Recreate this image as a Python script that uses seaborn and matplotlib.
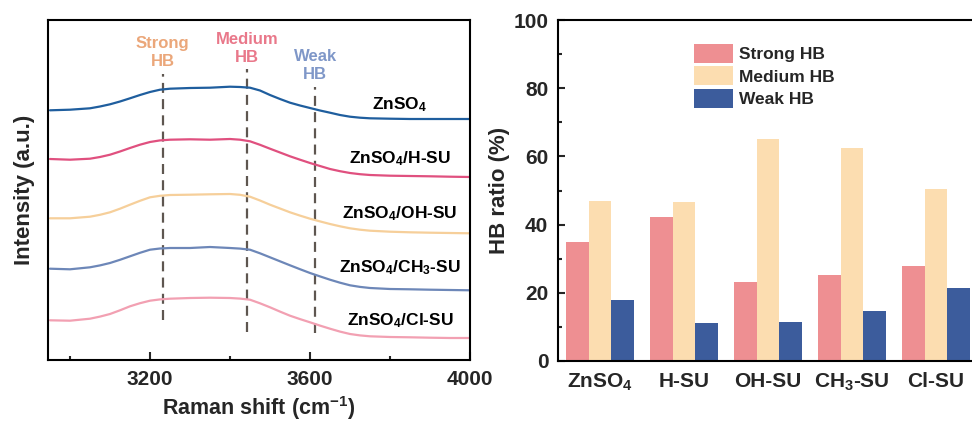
import matplotlib
matplotlib.use("Agg")
import matplotlib.pyplot as plt
import seaborn as sns
import pandas as pd

# ---------------- data ----------------
# Raman O-H stretching region, curves stacked with vertical offsets (a.u.)
wavenumber = [2950, 3000, 3050, 3075, 3100, 3125, 3150, 3175, 3200, 3225, 3250,
              3300, 3350, 3400, 3425, 3450, 3475, 3500, 3525, 3550, 3575, 3600,
              3625, 3650, 3675, 3700, 3725, 3750, 3800, 3850, 3900, 3950, 4000]
raman_znso4 = [249.7, 250.3, 251.7, 253.5, 255.7, 258.5, 261.7, 265.0, 268.0, 270.3, 271.3,
               272.0, 272.3, 273.3, 273.0, 272.3, 269.5, 265.0, 261.0, 257.3, 254.5, 252.0,
               249.5, 247.3, 245.0, 243.3, 242.3, 241.7, 241.3, 241.0, 241.0, 241.0, 241.0]
raman_h_su = [201.0, 200.3, 201.3, 203.0, 205.3, 208.5, 212.0, 215.3, 218.0, 219.6, 220.3,
              220.7, 220.3, 221.0, 220.3, 218.7, 215.2, 211.3, 207.5, 203.7, 200.3, 197.0,
              194.0, 191.0, 188.8, 187.0, 185.8, 185.0, 184.3, 184.0, 183.7, 183.3, 183.0]
raman_oh_su = [141.7, 141.7, 143.3, 145.2, 147.7, 151.3, 155.3, 159.2, 162.7, 164.2, 165.0,
               165.3, 165.7, 166.0, 165.2, 163.3, 159.5, 155.3, 151.5, 147.7, 144.4, 141.3,
               138.6, 136.0, 133.7, 131.7, 130.3, 129.3, 128.3, 127.7, 127.3, 127.0, 126.7]
raman_ch3_su = [91.3, 90.7, 92.7, 94.6, 97.0, 100.2, 103.7, 107.2, 110.3, 111.5, 112.0,
                112.0, 113.0, 112.0, 111.4, 110.3, 106.7, 102.7, 98.7, 94.7, 90.8, 87.0,
                83.6, 80.3, 77.3, 74.7, 73.1, 72.0, 71.0, 70.7, 70.3, 70.0, 69.7]
raman_cl_su = [39.7, 39.3, 41.3, 43.4, 46.0, 49.7, 53.7, 56.8, 59.3, 60.6, 61.3,
               62.0, 62.3, 62.0, 61.4, 60.3, 56.7, 52.7, 48.4, 44.3, 40.9, 37.7,
               34.4, 31.3, 28.4, 26.0, 24.6, 23.7, 23.0, 22.7, 22.3, 22.0, 22.0]

curve_names = ["ZnSO$_4$", "ZnSO$_4$/H-SU", "ZnSO$_4$/OH-SU",
               "ZnSO$_4$/CH$_3$-SU", "ZnSO$_4$/Cl-SU"]
curve_colors = ["#1F5E9E", "#E0507F", "#F6CF9A", "#6D87B8", "#F2A0B2"]
curve_label_y = [255, 201, 146, 92, 39]

# hydrogen-bond band positions (cm-1)
hb_positions = [3232, 3442, 3613]
hb_names = ["Strong\nHB", "Medium\nHB", "Weak\nHB"]
hb_text_colors = ["#EBA77A", "#E9788A", "#7F97C8"]

# HB ratio from peak fitting (%)
samples = ["ZnSO$_4$", "H-SU", "OH-SU", "CH$_3$-SU", "Cl-SU"]
strong_hb = [35.0, 42.1, 23.3, 25.1, 27.9]
medium_hb = [46.9, 46.5, 65.1, 62.6, 50.5]
weak_hb = [17.9, 11.1, 11.3, 14.7, 21.3]
hb_types = ["Strong HB", "Medium HB", "Weak HB"]
bar_colors = ["#EE8F92", "#FCDDB0", "#3C5C9C"]

# ---------------- style ----------------
sns.set_style("ticks")
plt.rcParams.update({
    "font.family": ["Liberation Sans", "DejaVu Sans"],
    "font.weight": "bold",
    "axes.labelweight": "bold",
    "mathtext.fontset": "custom",
    "mathtext.rm": "Liberation Sans:bold",
    "mathtext.it": "Liberation Sans:bold",
    "mathtext.bf": "Liberation Sans:bold",
    "mathtext.default": "rm",
    "axes.linewidth": 1.5,
    "axes.edgecolor": "black",
})

fig = plt.figure(figsize=(9.72, 4.21), dpi=100)
ax1 = fig.add_axes([48 / 972, 1 - 360 / 421, 422 / 972, 340 / 421])
ax2 = fig.add_axes([558 / 972, 1 - 361 / 421, 420 / 972, 341 / 421])

# ---------------- left: Raman spectra ----------------
spectra = pd.DataFrame({
    "wavenumber": wavenumber * 5,
    "intensity": raman_znso4 + raman_h_su + raman_oh_su + raman_ch3_su + raman_cl_su,
    "sample": sum([[n] * len(wavenumber) for n in curve_names], []),
})
sns.lineplot(data=spectra, x="wavenumber", y="intensity", hue="sample",
             hue_order=curve_names, palette=curve_colors, linewidth=1.6,
             legend=False, ax=ax1, estimator=None)

dash_spans = [(40, 286), (28, 291), (27, 273)]
for xpos, (y0, y1) in zip(hb_positions, dash_spans):
    ax1.plot([xpos, xpos], [y0, y1], color="#5E5650", linewidth=1.6,
             linestyle=(0, (4.5, 2.8)), zorder=1)

hb_text_y = [307.5, 311.5, 294.5]
for xpos, ty, name, col in zip(hb_positions, hb_text_y, hb_names, hb_text_colors):
    ax1.text(xpos, ty, name, color=col, fontsize=12, fontweight="bold",
             ha="center", va="center", linespacing=1.25)

for name, ty in zip(curve_names, curve_label_y):
    ax1.text(3825, ty, name, fontsize=12.5, fontweight="bold",
             ha="center", va="center", color="black")

ax1.set_xlim(2945, 4000)
ax1.set_ylim(0, 340)
ax1.set_xticks([3200, 3600, 4000])
ax1.set_xticks([3000, 3400, 3800], minor=True)
ax1.set_yticks([])
ax1.tick_params(axis="x", which="major", direction="in", length=6, width=1.5,
                labelsize=15, pad=7)
ax1.tick_params(axis="x", which="minor", direction="in", length=3, width=1.5)
ax1.set_xlabel("Raman shift (cm$^{-1}$)", fontsize=15.5, fontweight="bold")
ax1.set_ylabel("Intensity (a.u.)", fontsize=16, fontweight="bold")
ax1.xaxis.set_label_coords(0.5, -0.1)
ax1.yaxis.set_label_coords(-0.03, 0.5)
for s in ax1.spines.values():
    s.set_visible(True)
    s.set_linewidth(1.5)

# ---------------- right: HB ratio bars ----------------
ratios = pd.DataFrame({
    "sample": samples * 3,
    "ratio": strong_hb + medium_hb + weak_hb,
    "type": sum([[t] * len(samples) for t in hb_types], []),
})
sns.barplot(data=ratios, x="sample", y="ratio", hue="type", hue_order=hb_types,
            order=samples, palette=bar_colors, saturation=1, width=0.82,
            linewidth=0, ax=ax2)

ax2.set_xlim(-0.5, 4.5)
ax2.set_ylim(0, 100)
ax2.set_yticks([0, 20, 40, 60, 80, 100])
ax2.set_yticks([10, 30, 50, 70, 90], minor=True)
ax2.tick_params(axis="y", which="major", direction="in", length=5, width=1.5,
                labelsize=15, pad=7)
ax2.tick_params(axis="y", which="minor", direction="in", length=3, width=1.5)
ax2.tick_params(axis="x", length=0, labelsize=15, pad=8)
ax2.set_xlabel("")
ax2.set_ylabel("HB ratio (%)", fontsize=16, fontweight="bold")
ax2.yaxis.set_label_coords(-0.115, 0.5)
for s in ax2.spines.values():
    s.set_visible(True)
    s.set_linewidth(1.5)

leg = ax2.legend(loc="upper left", bbox_to_anchor=(694 / 972, 1 - 44 / 421),
                 bbox_transform=fig.transFigure, frameon=False, fontsize=12.5,
                 handlelength=2.25, handleheight=1.3, labelspacing=0.2,
                 handletextpad=0.35, borderpad=0, borderaxespad=0)
for t in leg.get_texts():
    t.set_fontweight("bold")

fig.savefig("out.png", dpi=100)
